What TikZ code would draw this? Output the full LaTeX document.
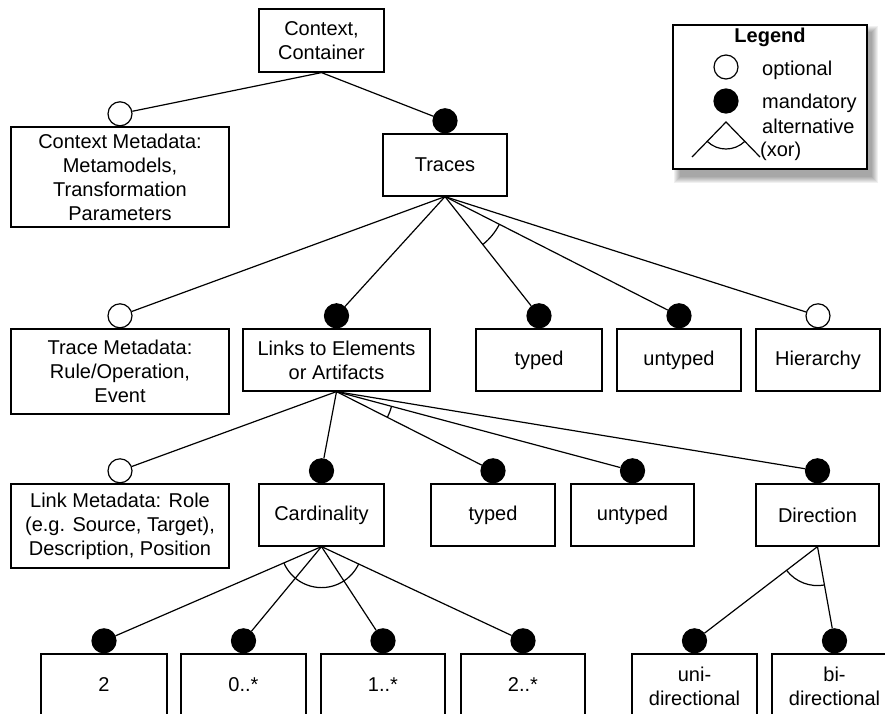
\documentclass[tikz,border=0pt]{standalone}
\usepackage{fontspec}
\setmainfont{Liberation Sans}
\usetikzlibrary{calc,backgrounds}
\newcommand\altarc[4]{%
  \draw[con] let \p1=($(#2)-(#1)$), \p2=($(#3)-(#1)$),
    \n1={atan2(\y1,\x1)}, \n2={atan2(\y2,\x2)} in
    ($(#1)+(\n1:#4)$) arc[start angle=\n1, end angle=\n2, radius=#4];}
\begin{document}
\begin{tikzpicture}[x=1pt,y=-1pt,
  font=\fontsize{20}{24}\selectfont,
  box/.style={draw, line width=1.2pt, align=center, inner sep=0pt, fill=white},
  opt/.style={circle, draw, line width=1.2pt, fill=white, minimum size=24pt, inner sep=0pt},
  man/.style={opt, fill=black},
  con/.style={line width=1.2pt},
  ltext/.style={anchor=base west, inner sep=0pt},
  ]
\useasboundingbox (0,0) rectangle (885,713);
\clip (0,0) rectangle (885,713);

% ---- boxes ----
\node[box, minimum width=125pt, minimum height=63pt] (ctx) at (321.5,40.5) {Context,\\Container};
\node[box, minimum width=218pt, minimum height=100pt] (cmeta) at (120,177) {Context Metadata:\\Metamodels,\\Transformation\\Parameters};
\node[box, minimum width=124pt, minimum height=62pt] (traces) at (445,165) {Traces};

\node[box, minimum width=218pt, minimum height=85pt] (tmeta) at (120,371.5) {Trace Metadata:\\Rule/Operation,\\Event};
\node[box, minimum width=187pt, minimum height=62pt] (links) at (336.5,360) {Links to Elements\\or Artifacts};
\node[box, minimum width=126pt, minimum height=62pt] (typedA) at (539,360) {typed};
\node[box, minimum width=124pt, minimum height=62pt] (untypedA) at (679,360) {untyped};
\node[box, minimum width=124pt, minimum height=62pt] (hier) at (818,360) {Hierarchy};

\node[box, minimum width=218pt, minimum height=84pt] (lmeta) at (120,526) {Link Metadata: Role\\(e.g. Source, Target),\\Description, Position};
\node[box, minimum width=125pt, minimum height=62pt] (card) at (321.5,515) {Cardinality};
\node[box, minimum width=124pt, minimum height=62pt] (typedB) at (493,515) {typed};
\node[box, minimum width=123pt, minimum height=62pt] (untypedB) at (632.5,515) {untyped};
\node[box, minimum width=123pt, minimum height=62pt] (dir) at (817.5,515) {Direction};

\node[box, minimum width=126pt, minimum height=62pt] (ctwo) at (104,685) {2};
\node[box, minimum width=125pt, minimum height=62pt] (czero) at (243.5,685) {0..*};
\node[box, minimum width=124pt, minimum height=62pt] (cone) at (383,685) {1..*};
\node[box, minimum width=124pt, minimum height=62pt] (ctwos) at (523,685) {2..*};
\node[box, minimum width=125pt, minimum height=64pt] (uni) at (694.5,686) {uni-\\directional};
\node[box, minimum width=125pt, minimum height=64pt] (bi) at (834.5,686) {bi-\\directional};

% ---- circles ----
\node[opt, anchor=south] (c-cmeta) at (cmeta.north) {};
\node[man, anchor=south] (c-traces) at (traces.north) {};
\node[opt, anchor=south] (c-tmeta) at (tmeta.north) {};
\node[man, anchor=south] (c-links) at (links.north) {};
\node[man, anchor=south] (c-typedA) at (typedA.north) {};
\node[man, anchor=south] (c-untypedA) at (untypedA.north) {};
\node[opt, anchor=south] (c-hier) at (hier.north) {};
\node[opt, anchor=south] (c-lmeta) at (lmeta.north) {};
\node[man, anchor=south] (c-card) at (card.north) {};
\node[man, anchor=south] (c-typedB) at (typedB.north) {};
\node[man, anchor=south] (c-untypedB) at (untypedB.north) {};
\node[man, anchor=south] (c-dir) at (dir.north) {};
\node[man, anchor=south] (c-ctwo) at (ctwo.north) {};
\node[man, anchor=south] (c-czero) at (czero.north) {};
\node[man, anchor=south] (c-cone) at (cone.north) {};
\node[man, anchor=south] (c-ctwos) at (ctwos.north) {};
\node[man, anchor=south] (c-uni) at (uni.north) {};
\node[man, anchor=south] (c-bi) at (bi.north) {};

% ---- connectors ----
\draw[con] (ctx.south) -- (c-cmeta);
\draw[con] (ctx.south) -- (c-traces);
\foreach \t in {tmeta,links,typedA,untypedA,hier} \draw[con] (traces.south) -- (c-\t);
\foreach \t in {lmeta,card,typedB,untypedB,dir} \draw[con] (links.south) -- (c-\t);
\foreach \t in {ctwo,czero,cone,ctwos} \draw[con] (card.south) -- (c-\t);
\foreach \t in {uni,bi} \draw[con] (dir.south) -- (c-\t);

% ---- alternative arcs ----
\altarc{traces.south}{c-typedA}{c-untypedA}{61pt}
\altarc{links.south}{c-typedB}{c-untypedB}{57pt}
\altarc{card.south}{c-ctwo}{c-ctwos}{41pt}
\altarc{dir.south}{c-uni}{c-bi}{39pt}

% ---- legend ----
\node[box, minimum width=194pt, minimum height=144pt] (leg) at (770,97) {};
\begin{scope}[on background layer]
  \foreach \d in {0,1,...,6}
    \fill[black, opacity=0.06] ($(leg.north west)+(8-\d,8-\d)$) rectangle ($(leg.south east)+(4+\d,7+\d)$);
\end{scope}
\node[inner sep=0pt, anchor=base, font=\fontsize{20}{24}\selectfont\bfseries] (legt) at (770,42) {Legend};
\node[opt] (lopt) at (726,67) {};
\node[ltext] (lopttxt) at (762,75) {optional};
\node[man] (lman) at (726,101) {};
\node[ltext] (lmantxt) at (762,108) {mandatory};
\coordinate (lapex) at (726,122);
\coordinate (lleft) at (692,157);
\coordinate (lright) at (760,157);
\draw[con] (lleft) -- (lapex) -- (lright);
\altarc{lapex}{lleft}{lright}{27pt}
\node[ltext] (lalt) at (762,133) {alternative};
\node[ltext] (lxor) at (760,156) {(xor)};
\end{tikzpicture}
\end{document}
